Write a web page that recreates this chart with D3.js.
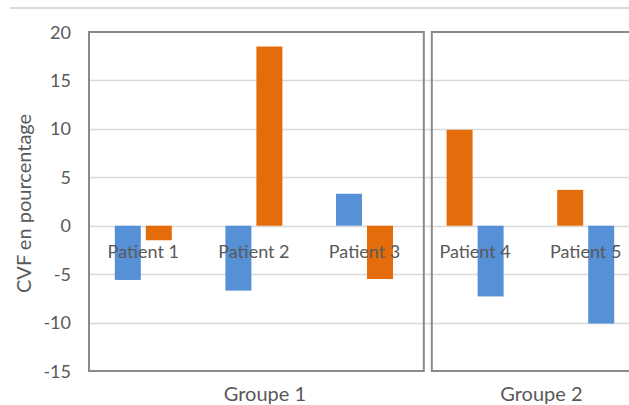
<!DOCTYPE html>
<html><head><meta charset="utf-8">
<script src="https://cdn.jsdelivr.net/npm/d3@7"></script>
<style>body{margin:0;background:#fff}svg{display:block}text{font-family:Lato,"Open Sans",sans-serif;fill:#595959}</style>
</head><body>
<script>
const patients = ["Patient 1","Patient 2","Patient 3","Patient 4","Patient 5"];
const groups = ["Groupe 1","Groupe 1","Groupe 1","Groupe 2","Groupe 2"];
const groupNames = ["Groupe 1","Groupe 2"];
// first and second bar in each patient pair
const firstValues  = [-5.6, -6.7, 3.3, 9.9, 3.7];
const secondValues = [-1.5, 18.5, -5.5, -7.3, -10.1];
const firstColors  = ["blue","blue","blue","orange","orange"];
const secondColors = ["orange","orange","orange","blue","blue"];
const yTicks = [20,15,10,5,0,-5,-10,-15];
const yTitle = "CVF en pourcentage";

const W = 629, H = 405;
const palette = {blue:"#5690D6", orange:"#E46C0A"};
const svg = d3.select("body").append("svg").attr("width",W).attr("height",H);

const x = d3.scaleBand().domain(patients).range([88, 641]).padding(0);
const y = d3.scaleLinear().domain([-15,20]).range([371, 32]);
const barW = 26, gap = 5;

// top light line
svg.append("line").attr("x1",10).attr("x2",W).attr("y1",8).attr("y2",8)
  .attr("stroke","#d9d9d9").attr("stroke-width",2);

// gridlines
svg.append("g").selectAll("line").data(yTicks.filter(t=>t>-15 && t<20)).join("line")
  .attr("x1",89).attr("x2",W).attr("y1",d=>Math.round(y(d))+0.5).attr("y2",d=>Math.round(y(d))+0.5)
  .attr("stroke","#d9d9d9").attr("stroke-width",1.5);

// y axis labels
const yAxis = d3.axisLeft(y).tickValues(yTicks).tickSize(0).tickPadding(0).tickFormat(d=>String(d));
const ga = svg.append("g").attr("transform","translate(71,0)").call(yAxis);
ga.select(".domain").remove();
ga.selectAll("text").attr("font-size",18).attr("fill","#595959").attr("font-family","Lato").attr("dy","0.34em");

// y title
svg.append("text").attr("transform",`translate(31,${y(2.3)}) rotate(-90)`)
  .attr("text-anchor","middle").attr("font-size",20).text(yTitle);

// bars
const data = patients.map((p,i)=>({p, g:groups[i], a:firstValues[i], b:secondValues[i], ca:firstColors[i], cb:secondColors[i]}));
const bars = svg.append("g");
data.forEach(d=>{
  const cx = x(d.p) + x.bandwidth()/2;
  [[d.a,d.ca,cx-gap/2-barW],[d.b,d.cb,cx+gap/2]].forEach(([v,c,x0])=>{
    bars.append("rect").attr("x",x0).attr("width",barW)
      .attr("y",y(Math.max(0,v))).attr("height",Math.abs(y(v)-y(0)))
      .attr("fill",palette[c]);
  });
});

// group frames
const frameColor = "#8a8a8a";
groupNames.forEach((g,gi)=>{
  const ps = patients.filter((p,i)=>groups[i]===g);
  const x0 = gi===0 ? x(ps[0])+1 : x(ps[0])+12;
  const x1 = gi===0 ? x(ps[ps.length-1])+x.bandwidth()+4 : x(ps[ps.length-1])+x.bandwidth();
  svg.append("rect").attr("x",x0).attr("y",y(20)).attr("width",x1-x0).attr("height",y(-15)-y(20))
    .attr("fill","none").attr("stroke",frameColor).attr("stroke-width",2);
  const cx = d3.mean(ps, p=>x(p)+x.bandwidth()/2) + 11;
  svg.append("text").attr("x",cx).attr("y",401).attr("text-anchor","middle")
    .attr("font-size",20).text(g);
});

// patient labels
svg.append("g").selectAll("text").data(data).join("text")
  .attr("x",d=>x(d.p)+x.bandwidth()/2).attr("y",258)
  .attr("text-anchor","middle").attr("font-size",18).text(d=>d.p);
</script>
</body></html>
